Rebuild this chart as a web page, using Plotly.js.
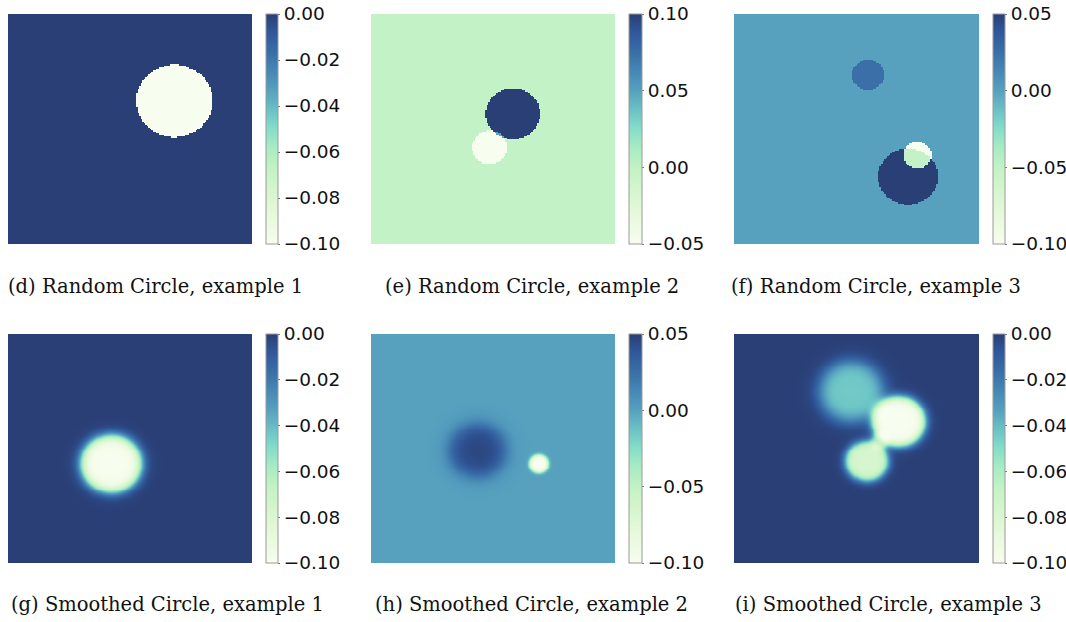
<!DOCTYPE html>
<html>
<head>
<meta charset="utf-8">
<script src="https://cdn.plot.ly/plotly-3.0.1.min.js"></script>
<style>html,body{margin:0;padding:0;background:#fff;}#chart{width:1066px;height:622px;}</style>
</head>
<body>
<div id="chart"></div>
<script>
// ---- data ----
const captions = [
  "(d) Random Circle, example 1", "(e) Random Circle, example 2", "(f) Random Circle, example 3",
  "(g) Smoothed Circle, example 1", "(h) Smoothed Circle, example 2", "(i) Smoothed Circle, example 3"
];
const zMin = [-0.10, -0.05, -0.10, -0.10, -0.10, -0.10];
const zMax = [0.00, 0.10, 0.05, 0.00, 0.05, 0.00];
const tickValsD = [-0.10, -0.08, -0.06, -0.04, -0.02, 0.00];
const tickValsE = [-0.05, 0.00, 0.05, 0.10];
const tickValsF = [-0.10, -0.05, 0.00, 0.05];
const tickValsG = [-0.10, -0.08, -0.06, -0.04, -0.02, 0.00];
const tickValsH = [-0.10, -0.05, 0.00, 0.05];
const tickValsI = [-0.10, -0.08, -0.06, -0.04, -0.02, 0.00];
const background = [0, 0, 0, 0, 0, 0];

// circles: centre (fraction of width / height from top-left), radius, amplitude, edge softness
const circD = {cx: [0.682], cy: [0.378], r: [0.157], amp: [-0.10]};
const circE = {cx: [0.582, 0.486], cy: [0.433, 0.580], r: [0.111, 0.072], amp: [0.10, -0.05]};
const circF = {cx: [0.547, 0.710, 0.749], cy: [0.265, 0.707, 0.613], r: [0.066, 0.122, 0.058], amp: [0.025, 0.05, -0.10]};
const circG = {cx: [0.422], cy: [0.565], r: [0.122], amp: [-0.10], w: [0.026]};
const circH = {cx: [0.436, 0.685], cy: [0.507, 0.565], r: [0.112, 0.038], amp: [0.046, -0.10], w: [0.04, 0.008]};
const circI = {cx: [0.477, 0.670, 0.541, 0.592], cy: [0.249, 0.380, 0.553, 0.465], r: [0.128, 0.106, 0.085, 0.035], amp: [-0.044, -0.10, -0.078, -0.028], w: [0.036, 0.022, 0.02, 0.014]};

const colors = [
  [0.00, '#f7fdef'], [0.12, '#e8f9dc'], [0.25, '#d2f5cb'], [0.333, '#c2f2c5'],
  [0.42, '#a8ebc3'], [0.50, '#84dec8'], [0.58, '#6cc3c6'], [0.667, '#57a0be'],
  [0.75, '#4688b5'], [0.83, '#3a70a8'], [0.92, '#30589a'], [1.00, '#2a3f76']
];

// ---- field construction ----
function sharpField(n, bg, c) {
  const z = [];
  for (let j = 0; j < n; j++) {
    const row = [];
    const y = (j + 0.5) / n;
    for (let i = 0; i < n; i++) {
      const x = (i + 0.5) / n;
      let v = bg;
      for (let k = 0; k < c.cx.length; k++) {
        const d = Math.hypot(x - c.cx[k], y - c.cy[k]);
        if (d < c.r[k]) v += c.amp[k];
      }
      row.push(v);
    }
    z.push(row);
  }
  return z;
}
function smoothField(n, bg, c) {
  const z = [];
  for (let j = 0; j < n; j++) {
    const row = [];
    const y = (j + 0.5) / n;
    for (let i = 0; i < n; i++) {
      const x = (i + 0.5) / n;
      let v = bg;
      for (let k = 0; k < c.cx.length; k++) {
        const d = Math.hypot(x - c.cx[k], y - c.cy[k]);
        v += c.amp[k] * 0.5 * (1 - Math.tanh((d - c.r[k]) / c.w[k]));
      }
      row.push(v);
    }
    z.push(row);
  }
  return z;
}

const W = 1066, H = 622;
const colX = [[8, 252], [371, 615], [734, 979]];
const cbX = [266, 629, 993];
const cbThick = [12, 13, 12];
const rowY = [[14, 244], [334, 563]];
const capX = [6, 383, 729, 9, 373, 733];
const capY = [286, 604];

const fields = [
  sharpField(160, background[0], circD),
  sharpField(160, background[1], circE),
  sharpField(160, background[2], circF),
  smoothField(120, background[3], circG),
  smoothField(120, background[4], circH),
  smoothField(120, background[5], circI)
];
const tickSets = [tickValsD, tickValsE, tickValsF, tickValsG, tickValsH, tickValsI];

const traces = [];
const layout = {
  width: W, height: H,
  margin: {l: 0, r: 0, t: 0, b: 0, autoexpand: false},
  paper_bgcolor: '#fff', plot_bgcolor: '#fff',
  showlegend: false,
  annotations: []
};

for (let p = 0; p < 6; p++) {
  const r = Math.floor(p / 3), c = p % 3;
  const n = fields[p].length;
  const ax = p === 0 ? '' : String(p + 1);
  traces.push({
    type: 'heatmap',
    z: fields[p],
    xaxis: 'x' + ax, yaxis: 'y' + ax,
    zmin: zMin[p], zmax: zMax[p],
    colorscale: colors,
    zsmooth: p < 3 ? false : 'best',
    hoverinfo: 'skip',
    colorbar: {
      x: cbX[c] / W, xanchor: 'left', xpad: 0,
      y: 1 - rowY[r][0] / H, yanchor: 'top', ypad: 0,
      len: rowY[r][1] - rowY[r][0], lenmode: 'pixels',
      thickness: cbThick[c], thicknessmode: 'pixels',
      outlinewidth: 1, outlinecolor: '#9a9a9a',
      ticks: 'outside', ticklen: 2, tickwidth: 1, tickcolor: '#777',
      tickvals: tickSets[p], tickformat: '.2f',
      tickfont: {family: 'DejaVu Sans', size: 18.5, color: '#111'}
    }
  });
  const axCommon = {visible: false, showgrid: false, zeroline: false, fixedrange: true};
  layout['xaxis' + ax] = Object.assign({}, axCommon, {
    domain: [colX[c][0] / W, colX[c][1] / W], range: [-0.5, n - 0.5],
    anchor: 'y' + ax
  });
  layout['yaxis' + ax] = Object.assign({}, axCommon, {
    domain: [1 - rowY[r][1] / H, 1 - rowY[r][0] / H], range: [n - 0.5, -0.5],
    anchor: 'x' + ax
  });
  layout.annotations.push({
    text: captions[p], xref: 'paper', yref: 'paper',
    x: capX[p] / W, xanchor: 'left', y: 1 - capY[r] / H, yanchor: 'middle',
    showarrow: false,
    font: {family: 'DejaVu Serif', size: 19.5, color: '#111'}
  });
}

Plotly.newPlot('chart', traces, layout, {staticPlot: true, displayModeBar: false});
</script>
</body>
</html>
